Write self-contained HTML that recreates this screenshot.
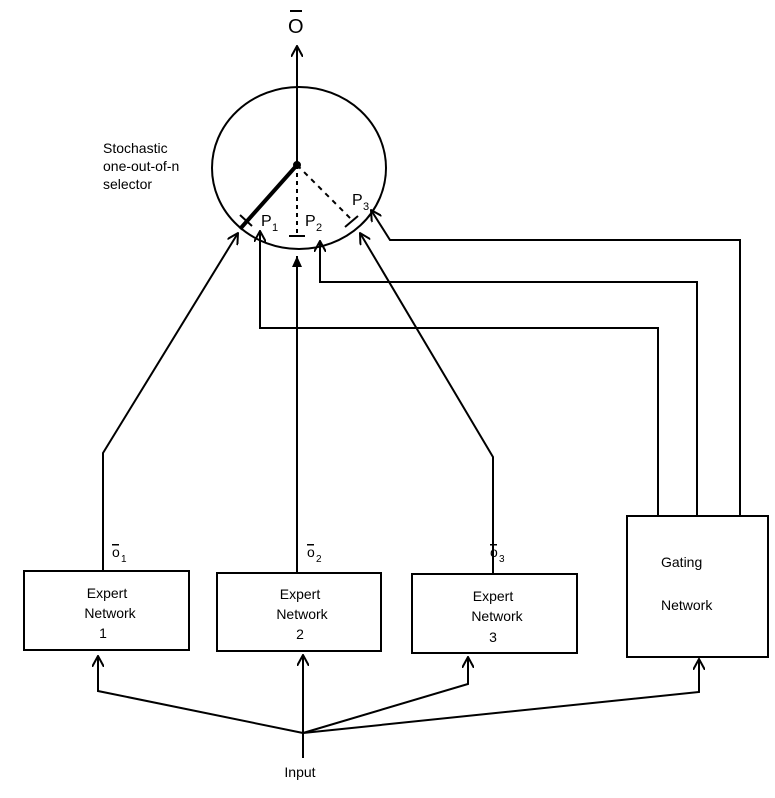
<!DOCTYPE html>
<html><head><style>html,body{margin:0;padding:0;background:#fff;overflow:hidden;}</style></head>
<body>
<svg width="775" height="793" viewBox="0 0 775 793" xmlns="http://www.w3.org/2000/svg" font-family="Liberation Sans, sans-serif" fill="none" stroke="#000" stroke-width="2">
<defs>
<marker id="a" viewBox="0 0 12 12" refX="11" refY="6" markerWidth="12" markerHeight="12" markerUnits="userSpaceOnUse" orient="auto"><path d="M0,0 L11,6 L0,12" fill="none" stroke="#000" stroke-width="2"/></marker>
<marker id="f" viewBox="0 0 12 12" refX="11" refY="6" markerWidth="14" markerHeight="12" markerUnits="userSpaceOnUse" orient="auto"><path d="M0,1 L11,6 L0,11 z" fill="#000" stroke="none"/></marker>
</defs>
<ellipse cx="299" cy="168" rx="87" ry="81"/>
<line x1="297" y1="165" x2="297" y2="46" marker-end="url(#a)"/>
<circle cx="297" cy="165" r="3" fill="#000"/>
<line x1="297" y1="165" x2="240" y2="229" stroke-width="4"/>
<line x1="297" y1="165" x2="297" y2="234" stroke-dasharray="4,4"/>
<line x1="297" y1="165" x2="352" y2="220" stroke-dasharray="5,5"/>
<line x1="240" y1="215" x2="252" y2="226"/>
<line x1="289" y1="236" x2="305" y2="236"/>
<line x1="345" y1="227" x2="358" y2="216"/>
<polyline points="103,571 103,453 238,233" marker-end="url(#a)"/>
<line x1="297" y1="573" x2="297" y2="256" marker-end="url(#f)"/>
<polyline points="493,574 493,457 360,233" marker-end="url(#a)"/>
<polyline points="658,516 658,328 260,328 260,231" marker-end="url(#a)"/>
<polyline points="697,516 697,282 320,282 320,241" marker-end="url(#a)"/>
<polyline points="740,516 740,240 390,240 371,210" marker-end="url(#a)"/>
<rect x="24" y="571" width="165" height="79"/>
<rect x="217" y="573" width="164" height="78"/>
<rect x="412" y="574" width="165" height="79"/>
<rect x="627" y="516" width="141" height="141"/>
<line x1="303" y1="758" x2="303" y2="733"/>
<polyline points="303,733 98,691 98,656" marker-end="url(#a)"/>
<line x1="303" y1="733" x2="303" y2="655" marker-end="url(#a)"/>
<polyline points="303,733 468,684 468,657" marker-end="url(#a)"/>
<polyline points="303,733 699,692 699,659" marker-end="url(#a)"/>
<g fill="#000" stroke="none" font-size="14">
<text x="288" y="33" font-size="20">O</text>
<rect x="290" y="10" width="12" height="2"/>
<text x="103" y="153">Stochastic</text>
<text x="103" y="171">one-out-of-n</text>
<text x="103" y="189">selector</text>
<text x="261" y="226" font-size="16">P</text><text x="272" y="231" font-size="11">1</text>
<text x="305" y="226" font-size="16">P</text><text x="316" y="231" font-size="11">2</text>
<text x="352" y="205" font-size="16">P</text><text x="363" y="210" font-size="11">3</text>
<text x="112" y="557">o</text><text x="121" y="562" font-size="10">1</text>
<text x="307" y="557">o</text><text x="316" y="562" font-size="10">2</text>
<text x="490" y="557">o</text><text x="499" y="562" font-size="10">3</text>
<rect x="112" y="544" width="7" height="1.5"/>
<rect x="307" y="544" width="7" height="1.5"/>
<rect x="490" y="544" width="7" height="1.5"/>
<text x="107" y="598" text-anchor="middle">Expert</text>
<text x="110" y="618" text-anchor="middle">Network</text>
<text x="103" y="638" text-anchor="middle">1</text>
<text x="300" y="599" text-anchor="middle">Expert</text>
<text x="302" y="619" text-anchor="middle">Network</text>
<text x="300" y="639" text-anchor="middle">2</text>
<text x="493" y="601" text-anchor="middle">Expert</text>
<text x="497" y="621" text-anchor="middle">Network</text>
<text x="493" y="642" text-anchor="middle">3</text>
<text x="661" y="567">Gating</text>
<text x="661" y="610">Network</text>
<text x="300" y="777" text-anchor="middle">Input</text>
</g>
</svg>
</body></html>
